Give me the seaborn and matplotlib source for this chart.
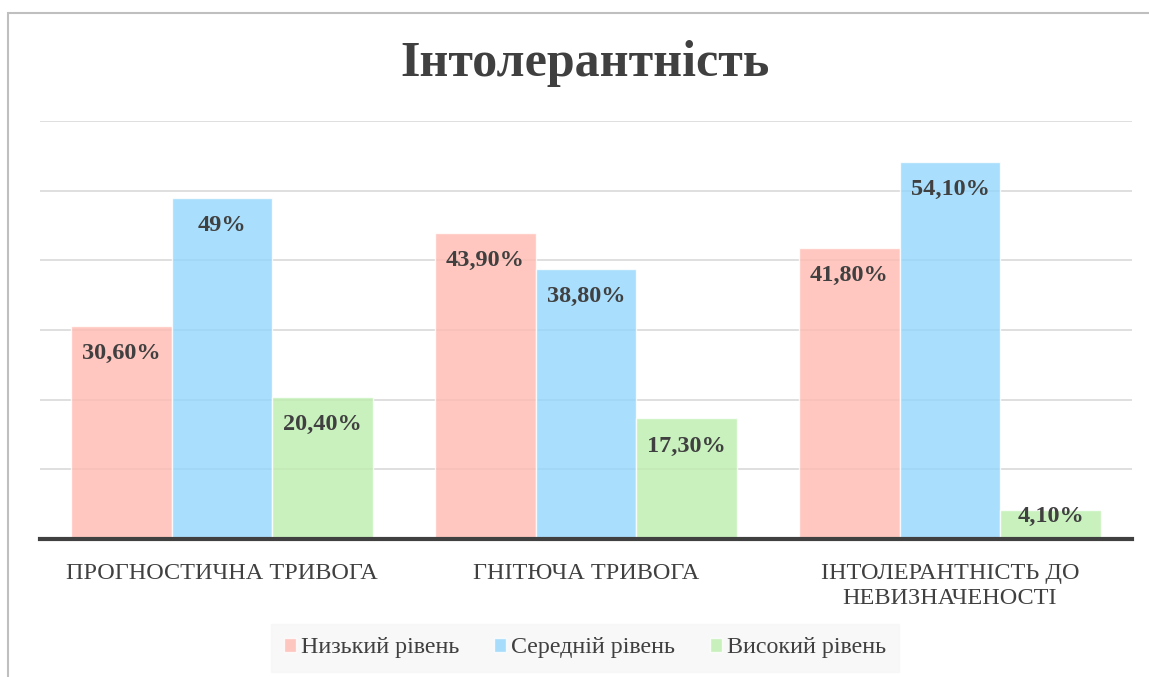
import numpy as np
import pandas as pd
import matplotlib
matplotlib.use('Agg')
import matplotlib.pyplot as plt
import seaborn as sb
from matplotlib.patches import Rectangle

#-------------------------------------------------------------------------------------------------
# data
#-------------------------------------------------------------------------------------------------
categories = ['ПРОГНОСТИЧНА ТРИВОГА', 'ГНІТЮЧА ТРИВОГА', 'ІНТОЛЕРАНТНІСТЬ ДО\nНЕВИЗНАЧЕНОСТІ']
levels = ['Низький рівень', 'Середній рівень', 'Високий рівень']
low = [30.6, 43.9, 41.8]
mid = [49.0, 38.8, 54.1]
high = [20.4, 17.3, 4.1]
low_labels = ['30,60%', '43,90%', '41,80%']
mid_labels = ['49%', '38,80%', '54,10%']
high_labels = ['20,40%', '17,30%', '4,10%']

df = pd.DataFrame({
    'category': categories * 3,
    'level': [levels[0]] * 3 + [levels[1]] * 3 + [levels[2]] * 3,
    'value': low + mid + high,
})

colors = ['#FFBAB1', '#94D6FC', '#BCEEAE']

#-------------------------------------------------------------------------------------------------
# plot
#-------------------------------------------------------------------------------------------------
sb.set_style('white')
plt.rcParams['font.family'] = ['Liberation Serif', 'DejaVu Serif']

fig = plt.figure(figsize=(11.49, 6.77), dpi=100)
ax = fig.add_axes([40 / 1149, 1 - 539 / 677, 1092 / 1149, 418 / 677])

ax.set_axisbelow(True)
ax.yaxis.grid(True, color='#d9d9d9', linewidth=1.2)

sb.barplot(data=df, x='category', y='value', hue='level', hue_order=levels,
           palette=colors, saturation=1, width=0.83, alpha=0.8,
           edgecolor='white', linewidth=1, ax=ax, legend=True)

ax.set_ylim(0, 60)
px_per_unit = 418 / 60

# value labels inside the top of each bar
for cont, labs in zip(ax.containers, [low_labels, mid_labels, high_labels]):
    for bar, lab in zip(cont, labs):
        h_pt = bar.get_height() * px_per_unit * 0.72
        off = -20 if h_pt > 40 else -0.2 * h_pt
        ax.annotate(lab, (bar.get_x() + bar.get_width() / 2, bar.get_height()),
                    xytext=(0, off), textcoords='offset points',
                    ha='center', va='center', fontsize=17.5, fontweight='bold',
                    color='#404040')

ax.set_yticks(np.arange(0, 61, 10))
ax.set_yticklabels([])
ax.set_xlim(-0.5, 2.5)
ax.set_xlabel('')
ax.set_ylabel('')
ax.tick_params(axis='x', length=0, pad=17, labelsize=17.5, labelcolor='#404040')
for t in ax.get_xticklabels():
    t.set_linespacing(1.3)
ax.tick_params(axis='y', length=0)
for s in ['top', 'right', 'left']:
    ax.spines[s].set_visible(False)
ax.spines['bottom'].set_color('#404040')
ax.spines['bottom'].set_linewidth(3)

fig.suptitle('Інтолерантність', x=585 / 1149, y=1 - 40 / 677, fontsize=36,
             fontweight='bold', color='#404040', va='top')

leg = ax.legend(loc='center', bbox_to_anchor=(585 / 1149, 1 - 648 / 677),
                bbox_transform=fig.transFigure, ncol=3, frameon=True,
                fontsize=17.3, handlelength=0.5, handleheight=0.5,
                handletextpad=0.2, columnspacing=1.45, borderpad=0.55,
                fancybox=False)
leg.get_frame().set_facecolor('#f7f7f7')
leg.get_frame().set_edgecolor('#f7f7f7')
for t in leg.get_texts():
    t.set_color('#404040')

fig.patches.append(Rectangle((8 / 1149, -0.1), 1.2, 1 - 13 / 677 + 0.1,
                             transform=fig.transFigure, fill=False,
                             edgecolor='#bfbfbf', linewidth=1.5))

fig.savefig('out.png', dpi=100)
